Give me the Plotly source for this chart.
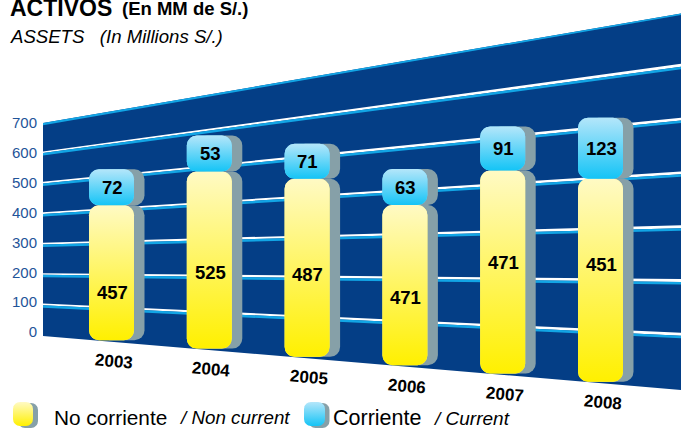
import numpy as np
import plotly.graph_objects as go

# ---- data ----
years = [2003, 2004, 2005, 2006, 2007, 2008]
no_corriente = [457, 525, 487, 471, 471, 451]
corriente = [72, 53, 71, 63, 91, 123]
y_ticks = [0, 100, 200, 300, 400, 500, 600, 700]

# ---- the source chart is a hand-drawn perspective: per-bar drawing factors ----
nc_scale = [0.989, 1.129, 1.224, 1.138, 1.443, 1.507]
c_scale = [1.674, 2.275, 1.651, 1.914, 1.619, 1.661]
nc_label_lift = [0.356, 0.43, 0.46, 0.425, 0.547, 0.576]

# ---- layout constants ----
W, H = 681, 429
PX_PER_YEAR = 97.8
PX_PER_UNIT = 0.2986
X0_PX, Y0_PX = 111.5, 332.0          # where year 2003 and value 0 sit on the page
WALL_L_PX, WALL_R_PX = 43.0, 681.0
BAR_W = 45 / PX_PER_YEAR
SHADOW = 10.5 / PX_PER_YEAR
R = 10

NAVY = "#043E86"
SKY = "#12A5E5"
GREY = "#86A0A8"
TICK = "#1F5499"
YELLOW = [[0, "#FFF000"], [1, "#FFFAC4"]]
BLUE = [[0, "#14C4F6"], [1, "#B4E6FA"]]
FONT = "Liberation Sans, Arial, sans-serif"


def xd(px):
    return 2003 + (px - X0_PX) / PX_PER_YEAR


def yd(px):
    return (Y0_PX - px) / PX_PER_UNIT


def wall_px(x_px, v):
    """page y of wall value v at page x (linear perspective)."""
    t = (x_px - WALL_L_PX) / (WALL_R_PX - WALL_L_PX)
    floor = 336 + (390 - 336) * t
    slope = 0.3043 + (0.5379 - 0.3043) * t
    return floor - slope * v


def band(v, l_top, l_bot, r_top, r_bot, colour):
    """wall-spanning strip around value v, as a below-traces shape in data coordinates"""
    pts = [(WALL_L_PX, wall_px(WALL_L_PX, v) + l_top), (WALL_R_PX, wall_px(WALL_R_PX, v) + r_top),
           (WALL_R_PX, wall_px(WALL_R_PX, v) + r_bot), (WALL_L_PX, wall_px(WALL_L_PX, v) + l_bot)]
    path = "M " + " L ".join(f"{xd(a):.5f},{yd(b):.3f}" for a, b in pts) + " Z"
    return dict(type="path", path=path, xref="x", yref="y", layer="below",
                fillcolor=colour, line=dict(width=0))


def rounded(x0, x1, y0, y1, r=R):
    """closed rounded rectangle in data units"""
    rx, ry = r / PX_PER_YEAR, r / PX_PER_UNIT
    a = np.linspace(0, np.pi / 2, 9)
    xs = np.concatenate([x1 - rx + rx * np.cos(a), x0 + rx - rx * np.sin(a),
                         x0 + rx - rx * np.cos(a), x1 - rx + rx * np.sin(a)])
    ys = np.concatenate([y1 - ry + ry * np.sin(a), y1 - ry + ry * np.cos(a),
                         y0 + ry - ry * np.sin(a), y0 + ry - ry * np.cos(a)])
    return list(xs) + [xs[0]], list(ys) + [ys[0]]


fig = go.Figure()

# wall and gridlines
shapes = []
wall_top, wall_bottom = y_ticks[-1], y_ticks[0]
lpx, rpx = WALL_L_PX, WALL_R_PX
shapes.append(dict(
    type="path", xref="x", yref="y", layer="below", fillcolor=NAVY, line=dict(width=0),
    path=f"M {xd(lpx):.5f},{yd(wall_px(lpx, wall_top)):.3f} L {xd(rpx):.5f},{yd(wall_px(rpx, wall_top)):.3f} "
         f"L {xd(rpx):.5f},{yd(wall_px(rpx, wall_bottom)):.3f} L {xd(lpx):.5f},{yd(wall_px(lpx, wall_bottom)):.3f} Z"))
for v in y_ticks[1:]:
    if v == wall_top:
        shapes.append(band(v, 0, 2.2, 0, 1.6, SKY))
    else:
        shapes.append(band(v, -2.0, -0.3, -3.4, -0.5, "white"))
        shapes.append(band(v, -0.3, 2.2, -0.5, 2.0, SKY))

# bars
yr = np.array(years, dtype=float)
floor_vals = np.array([yd(wall_px(X0_PX + (y - 2003) * PX_PER_YEAR, 0) - 1.5) for y in years])
h_nc = np.array(no_corriente) * np.array(nc_scale)
h_c = np.array(corriente) * np.array(c_scale)
top_nc = floor_vals + h_nc

for series_x, colour_nc, colour_c, name_suffix in [
    (yr + SHADOW, GREY, GREY, " (sombra)"),
    (yr, "#FFF680", "#7AD8F8", ""),
]:
    fig.add_trace(go.Bar(x=series_x, y=h_nc, base=floor_vals, width=BAR_W,
                         marker=dict(color=colour_nc, cornerradius=R, line=dict(width=0)),
                         name="No corriente" + name_suffix, hoverinfo="skip", showlegend=False))
    fig.add_trace(go.Bar(x=series_x, y=h_c, base=top_nc, width=BAR_W,
                         marker=dict(color=colour_c, cornerradius=R, line=dict(width=0)),
                         name="Corriente" + name_suffix, hoverinfo="skip", showlegend=False))

# gradient faces
for i, y in enumerate(years):
    for lo, hi, scale in [(floor_vals[i], top_nc[i], YELLOW), (top_nc[i], top_nc[i] + h_c[i], BLUE)]:
        xs, ys = rounded(y - BAR_W / 2, y + BAR_W / 2, lo, hi)
        fig.add_trace(go.Scatter(x=xs, y=ys, mode="lines", fill="toself", line=dict(width=0),
                                 fillgradient=dict(type="vertical", colorscale=scale),
                                 hoverinfo="skip", showlegend=False))

# legend icons
for (x0, x1, sh, scale) in [(13, 33, 5, YELLOW), (304, 325, 4.5, BLUE)]:
    xs, ys = rounded(xd(x0 + sh), xd(x1 + sh), yd(428), yd(403), 7)
    fig.add_trace(go.Scatter(x=xs, y=ys, mode="lines", fill="toself", fillcolor=GREY,
                             line=dict(width=0), hoverinfo="skip", showlegend=False))
    xs, ys = rounded(xd(x0), xd(x1), yd(426), yd(402), 7)
    fig.add_trace(go.Scatter(x=xs, y=ys, mode="lines", fill="toself", line=dict(width=0),
                             fillgradient=dict(type="vertical", colorscale=scale),
                             hoverinfo="skip", showlegend=False))

ann = []


def txt(x, y, s, size, bold=False, italic=False, color="black", xanchor="left", angle=0, ref="paper"):
    if bold:
        s = f"<b>{s}</b>"
    if italic:
        s = f"<i>{s}</i>"
    ann.append(dict(x=x, y=y, xref=ref if ref == "paper" else "x", yref=ref if ref == "paper" else "y",
                    text=s, showarrow=False, xanchor=xanchor, yanchor="middle", textangle=angle,
                    font=dict(family=FONT, size=size, color=color)))


def page(x, y, s, size, **kw):
    txt(x / W, 1 - y / H, s, size, **kw)


# data labels
for i, y in enumerate(years):
    txt(y + 0.7 / PX_PER_YEAR, floor_vals[i] + nc_label_lift[i] * h_nc[i], no_corriente[i], 18.5, bold=True,
        xanchor="center", ref="data")
    txt(y + 0.7 / PX_PER_YEAR, top_nc[i] + 0.5 * h_c[i], corriente[i], 18.5, bold=True,
        xanchor="center", ref="data")
    txt(y + 2 / PX_PER_YEAR, floor_vals[i] - 21 / PX_PER_UNIT, y, 17, bold=True,
        xanchor="center", angle=5, ref="data")

# titles and legend text
page(8, 8, "ACTIVOS", 23, bold=True)
page(120, 9, "(En MM de S/.)", 18.5, bold=True)
page(8, 36, "ASSETS&nbsp;&nbsp;&nbsp;(In Millions S/.)", 18.6, italic=True)
page(52, 417.5, "No corriente", 20.8)
page(177, 417.5, "/ Non current", 18.8, italic=True)
page(331, 418, "Corriente", 21.5)
page(431, 418.5, "/ Current", 19, italic=True)

fig.update_layout(
    width=W, height=H, autosize=False,
    margin=dict(l=0, r=0, t=0, b=0),
    paper_bgcolor="white", plot_bgcolor="white",
    barmode="overlay", showlegend=False, annotations=ann, shapes=shapes,
    font=dict(family=FONT),
    xaxis=dict(range=[xd(0), xd(W)], visible=False, fixedrange=True),
    yaxis=dict(range=[yd(H), yd(0)], anchor="free", position=WALL_L_PX / W,
               tickmode="array", tickvals=y_ticks, ticktext=[str(v) for v in y_ticks],
               showgrid=False, zeroline=False, showline=False, ticks="", ticklabelstandoff=6,
               tickfont=dict(family=FONT, size=15, color=TICK), fixedrange=True),
)

fig.write_html("out.html", config={"displayModeBar": False},
               post_script="document.body.style.margin='0';")
